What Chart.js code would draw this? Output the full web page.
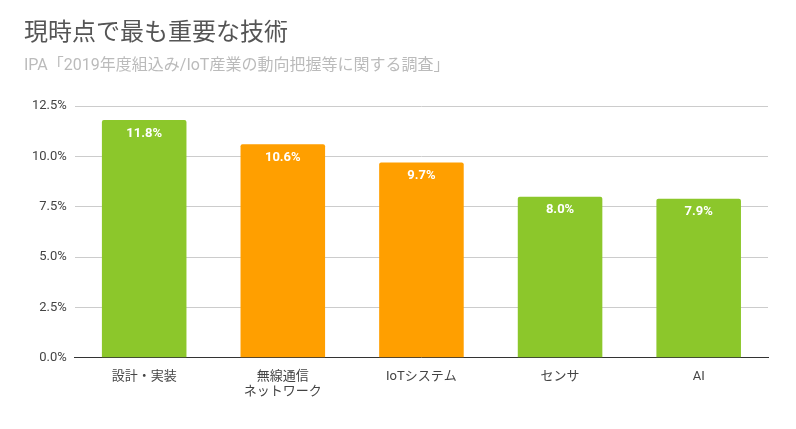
<!DOCTYPE html>
<html>
<head>
<meta charset="utf-8">
<script src="https://cdn.jsdelivr.net/npm/chart.js@4"></script>
<style>
  body { margin: 0; background: #fff; }
  #wrap { width: 796px; height: 429px; }
</style>
</head>
<body>
<div id="wrap"><canvas id="chart"></canvas></div>
<script>
const categories = ['設計・実装', ['無線通信', 'ネットワーク'], 'IoTシステム', 'センサ', 'AI'];
const values = [11.8, 10.6, 9.7, 8.0, 7.9];
const barColors = ['#8cc72b', '#ff9f00', '#ff9f00', '#8cc72b', '#8cc72b'];
const yTicks = [0, 2.5, 5, 7.5, 10, 12.5];

const font = "Roboto, 'Noto Sans CJK JP', sans-serif";

// value labels inside the top of each bar
const barLabels = {
    id: 'barLabels',
    afterDatasetsDraw(chart) {
        const ctx = chart.ctx;
        ctx.save();
        ctx.font = 'bold 13px ' + font;
        ctx.fillStyle = '#fff';
        ctx.textAlign = 'center';
        ctx.textBaseline = 'top';
        chart.getDatasetMeta(0).data.forEach((bar, i) => {
            ctx.fillText(values[i].toFixed(1) + '%', bar.x, bar.y + 7);
        });
        ctx.restore();
    }
};

new Chart(document.getElementById('chart'), {
    type: 'bar',
    data: {
        labels: categories,
        datasets: [{
            data: values,
            backgroundColor: barColors,
            borderRadius: 2,
            borderSkipped: 'bottom',
            barPercentage: 0.61,
            categoryPercentage: 1
        }]
    },
    options: {
        responsive: true,
        maintainAspectRatio: false,
        animation: false,
        layout: { padding: { left: 24, right: 28, top: 20, bottom: 26 } },
        plugins: {
            legend: { display: false },
            tooltip: { enabled: false },
            title: {
                display: true,
                text: '現時点で最も重要な技術',
                align: 'start',
                color: '#555',
                font: { family: font, size: 24, weight: 'normal' },
                padding: { top: 0, bottom: 8 }
            },
            subtitle: {
                display: true,
                text: 'IPA「2019年度組込み/IoT産業の動向把握等に関する調査」',
                align: 'start',
                color: '#bbb',
                font: { family: font, size: 16 },
                padding: { bottom: 30 }
            }
        },
        scales: {
            x: {
                grid: { display: false },
                border: { color: '#333' },
                ticks: { color: '#444', font: { family: font, size: 13 }, maxRotation: 0 }
            },
            y: {
                min: 0,
                max: 12.5,
                afterBuildTicks(axis) { axis.ticks = yTicks.map(v => ({ value: v })); },
                grid: { color: '#ccc', drawTicks: false },
                border: { display: false },
                ticks: {
                    color: '#444',
                    padding: 8,
                    font: { family: font, size: 13 },
                    callback: v => v.toFixed(1) + '%'
                }
            }
        }
    },
    plugins: [barLabels]
});
</script>
</body>
</html>
